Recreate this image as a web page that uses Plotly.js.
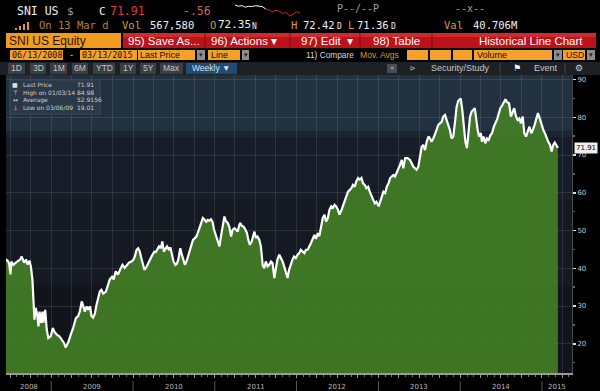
<!DOCTYPE html>
<html><head><meta charset="utf-8">
<script src="https://cdn.plot.ly/plotly-3.0.1.min.js"></script>
<style>html,body{margin:0;padding:0;background:#000;overflow:hidden}#chart{width:600px;height:391px}</style>
</head><body><div id="chart"></div>
<script>
// ---------- DATA ----------
const dates = [
'2008-06-13','2008-06-20','2008-06-27','2008-07-03','2008-07-07','2008-07-16','2008-07-31','2008-08-15','2008-08-22','2008-09-02',
'2008-09-11','2008-09-17','2008-09-26','2008-10-02','2008-10-09','2008-10-13','2008-10-18','2008-10-24','2008-10-31','2008-11-05',
'2008-11-10','2008-11-16','2008-11-23','2008-11-27','2008-12-05','2008-12-12','2008-12-19','2008-12-30',
'2009-01-08','2009-01-15','2009-01-26','2009-02-06','2009-02-17','2009-02-27','2009-03-06','2009-03-18','2009-03-29','2009-04-09',
'2009-04-21','2009-05-01','2009-05-09','2009-05-17','2009-05-24','2009-05-31','2009-06-08','2009-06-15','2009-06-23','2009-06-30',
'2009-07-07','2009-07-15','2009-07-22','2009-07-29','2009-08-06','2009-08-13','2009-08-21','2009-09-02','2009-09-07','2009-09-19',
'2009-10-01','2009-10-07','2009-10-16','2009-10-26','2009-11-06','2009-11-15','2009-11-25','2009-12-06','2009-12-14','2009-12-25',
'2010-01-03','2010-01-09','2010-01-17','2010-01-24','2010-01-31','2010-02-07','2010-02-14','2010-02-21','2010-03-01','2010-03-07',
'2010-03-15','2010-03-22','2010-03-29','2010-04-06','2010-04-13','2010-04-20','2010-04-27','2010-05-05','2010-05-12','2010-05-19',
'2010-05-26','2010-06-02','2010-06-10','2010-06-17','2010-06-24','2010-07-01','2010-07-09','2010-07-16','2010-07-23','2010-07-31',
'2010-08-07','2010-08-14','2010-08-21','2010-08-28','2010-09-05','2010-09-12','2010-09-19','2010-09-26','2010-10-04','2010-10-11',
'2010-10-18','2010-10-26','2010-11-02','2010-11-09','2010-11-16','2010-11-24','2010-12-01','2010-12-08','2010-12-15','2010-12-22',
'2010-12-29',
'2011-01-07','2011-01-14','2011-01-22','2011-01-29','2011-02-06','2011-02-13','2011-02-20','2011-02-28','2011-03-07','2011-03-15',
'2011-03-22','2011-03-30','2011-04-06','2011-04-13','2011-04-21','2011-04-25','2011-05-02','2011-05-10','2011-05-18','2011-05-25',
'2011-05-31','2011-06-07','2011-06-15','2011-06-20','2011-06-27','2011-07-04','2011-07-11','2011-07-19','2011-07-26','2011-08-03',
'2011-08-10','2011-08-17','2011-08-25','2011-09-01','2011-09-09','2011-09-16','2011-09-24','2011-10-01','2011-10-08','2011-10-16',
'2011-10-23','2011-10-31','2011-11-07','2011-11-14','2011-11-22','2011-11-29','2011-12-07','2011-12-14','2011-12-21','2011-12-29',
'2012-01-06','2012-01-13','2012-01-20','2012-01-28','2012-02-05','2012-02-12','2012-02-20','2012-03-04','2012-03-13','2012-03-21',
'2012-03-28','2012-04-05','2012-04-12','2012-04-19','2012-04-27','2012-05-05','2012-05-12','2012-05-20','2012-05-27','2012-06-04',
'2012-06-11','2012-06-19','2012-06-26','2012-07-04','2012-07-11','2012-07-19','2012-07-26','2012-08-03','2012-08-10','2012-08-18',
'2012-08-25','2012-09-02','2012-09-09','2012-09-17','2012-09-24','2012-10-02','2012-10-09','2012-10-17','2012-10-24','2012-11-01',
'2012-11-08','2012-11-16','2012-11-23','2012-12-01','2012-12-09','2012-12-16','2012-12-23',
'2013-01-02','2013-01-09','2013-01-16','2013-01-23','2013-01-31','2013-02-07','2013-02-15','2013-02-22','2013-03-01','2013-03-09',
'2013-03-16','2013-03-23','2013-03-31','2013-04-07','2013-04-15','2013-04-22','2013-04-30','2013-05-11','2013-05-22','2013-05-29',
'2013-06-06','2013-06-13','2013-06-20','2013-06-28','2013-07-06','2013-07-13','2013-07-20','2013-07-28','2013-08-04','2013-08-12',
'2013-08-19','2013-08-26','2013-09-03','2013-09-10','2013-09-17','2013-09-25','2013-10-03','2013-10-10','2013-10-17','2013-10-25',
'2013-11-01','2013-11-09','2013-11-16','2013-11-23','2013-12-01','2013-12-08','2013-12-16','2013-12-23',
'2014-01-03','2014-01-10','2014-01-17','2014-01-24','2014-01-31','2014-02-07','2014-02-14','2014-02-21','2014-02-28','2014-03-07',
'2014-03-20','2014-03-26','2014-04-03','2014-04-08','2014-04-15','2014-04-23','2014-04-30','2014-05-08','2014-05-16','2014-05-23',
'2014-05-31','2014-06-15','2014-06-22','2014-06-29','2014-07-06','2014-07-14','2014-07-22','2014-07-29','2014-08-07','2014-08-15',
'2014-08-22','2014-08-30','2014-09-07','2014-09-14','2014-09-22','2014-09-29','2014-10-07','2014-10-14','2014-10-22','2014-10-30',
'2014-11-06','2014-11-14','2014-11-21','2014-11-29','2014-12-06','2014-12-14','2014-12-22','2014-12-30',
'2015-01-07','2015-01-14','2015-01-22','2015-01-29','2015-02-06','2015-02-13','2015-02-20','2015-02-27','2015-03-06','2015-03-13'
];
const prices = [
42.4,42.0,41.3,38.4,41.8,40.9,41.7,42.3,43.1,41.5,
42.3,41.0,42.0,40.5,37.0,29.9,26.4,29.5,27.5,24.6,
28.5,25.5,28.5,25.6,29.0,23.7,21.5,22.0,
24.2,23.2,22.4,22.0,21.1,20.2,19.01,20.4,22.4,24.2,
26.8,27.3,28.6,31.2,30.0,28.5,29.9,29.0,29.9,27.3,
26.9,28.0,30.3,31.7,33.9,34.3,33.3,33.8,34.8,37.0,
37.9,37.0,39.2,38.3,39.8,40.9,40.1,40.9,41.5,41.8,
42.3,43.1,44.9,45.3,44.5,42.7,40.9,39.6,40.2,41.0,
42.3,42.8,43.6,44.4,44.3,45.3,45.8,45.3,47.1,44.4,
45.2,45.8,45.0,45.5,43.6,41.8,40.9,41.2,42.5,45.3,
43.6,42.3,40.9,41.8,43.6,45.3,46.2,47.5,47.9,48.4,
49.5,51.1,52.4,53.3,52.9,52.3,52.8,52.6,53.0,52.3,
50.2,
48.4,47.1,45.8,48.5,51.5,53.7,52.5,52.0,51.0,48.4,
50.2,50.6,50.2,49.7,51.5,52.0,51.2,51.0,50.2,49.3,
47.5,46.2,47.1,48.4,49.7,48.0,48.4,47.5,45.8,40.9,
40.0,41.8,40.5,40.9,41.8,41.4,37.4,40.0,42.3,43.6,
42.8,41.8,40.5,39.2,37.4,39.6,41.4,42.3,43.1,42.7,
43.6,44.0,44.9,44.5,44.0,44.9,44.9,46.5,48.0,48.8,
47.8,49.3,48.5,51.1,53.3,54.2,52.4,53.3,55.5,56.4,
56.0,56.8,56.4,55.5,54.2,55.3,56.6,57.7,59.4,60.3,
60.7,61.2,62.1,61.6,63.0,63.9,63.5,63.9,62.5,62.1,
61.2,61.6,60.3,59.4,58.1,57.2,57.6,
56.4,57.6,59.4,60.3,59.9,61.6,62.5,63.9,64.3,64.7,
64.3,65.2,66.1,67.4,68.7,66.5,69.2,69.2,68.7,67.8,
66.9,66.5,66.1,66.9,69.6,72.2,72.7,71.3,73.5,74.9,
74.4,73.5,74.4,75.8,76.6,78.0,78.4,78.8,80.2,80.6,
79.3,78.0,76.6,74.4,74.9,78.4,82.8,84.3,
84.98,82.0,77.0,73.5,71.8,76.0,80.2,81.5,81.9,82.4,
76.6,74.9,75.8,73.5,74.9,73.1,74.4,74.0,75.3,75.8,
77.5,79.5,81.0,82.4,83.0,84.1,84.8,84.0,83.7,80.2,
81.5,82.4,80.2,79.3,79.7,78.4,80.2,75.8,74.9,76.6,
77.5,75.8,76.6,78.0,79.3,81.1,79.7,78.0,
76.6,75.8,74.4,73.5,72.7,70.9,72.7,73.3,72.6,71.91
];
const yearLabels = ['2008','2009','2010','2011','2012','2013','2014','2015'];
const yearLabelDates = ['2008-09-22','2009-07-02','2010-07-02','2011-07-02','2012-07-02','2013-07-02','2014-07-02','2015-03-09'];
const yearBounds = ['2009-01-01','2010-01-01','2011-01-01','2012-01-01','2013-01-01','2014-01-01','2015-01-01'];
const yTicks = [20,30,40,50,60,70,80,90];
const lastPrice = 71.91;
const statNames = ['Last Price','High on 01/03/14','Average','Low on 03/06/09'];
const statValues = ['71.91','84.98','52.9156','19.01'];
const statIcons = ['\u25A0','\u22A4','\u2194','\u22A5'];
// intraday sparkline in header
const sparkTimesUp = ['09:30','09:50','10:10','10:30','10:50','11:10','11:30','11:50','12:10','12:30'];
const sparkUp = [72.42,72.30,72.36,72.22,72.30,72.28,72.35,72.33,72.27,72.05];
const sparkTimesDown = ['12:30','12:50','13:10','13:30','13:50','14:10','14:30','14:50','15:10','15:30','15:50'];
const sparkDown = [72.05,71.96,71.80,71.95,71.86,71.66,71.74,71.45,71.60,71.82,71.72];

// ---------- LAYOUT HELPERS ----------
const W=600, H=391;
const MONO='"DejaVu Sans Mono", monospace', SANS='"Liberation Sans", Arial, sans-serif', DV='"DejaVu Sans", sans-serif';
const AMB='#d99a3c', ORG='#f5a02a';
function txt(x,y,text,color,size,family,anchor){
  return {xref:'paper',yref:'paper',x:x/W,y:1-y/H,text:text,showarrow:false,xanchor:anchor||'left',yanchor:'middle',
    font:{color:color,size:size,family:family||MONO},borderpad:0};
}
function rect(x0,y0,x1,y1,fill,lineColor,layer){
  return {type:'rect',xref:'paper',yref:'paper',x0:x0/W,x1:x1/W,y0:1-y1/H,y1:1-y0/H,fillcolor:fill,
    line:{width:lineColor?1:0,color:lineColor||'rgba(0,0,0,0)'},layer:layer||'above'};
}
function vline(x,y0,y1,color){
  return {type:'line',xref:'paper',yref:'paper',x0:x/W,x1:x/W,y0:1-y1/H,y1:1-y0/H,line:{color:color,width:1},layer:'above'};
}

const shapes=[], ann=[];
// plot background bands
[[75,131,'#223140'],[131,137,'#1c2633'],[137,200,'#171d28'],[200,285,'#141922'],[285,373,'#11151b']].forEach(b=>{
  shapes.push(rect(6,b[0],572,b[1],b[2],null,'below'));
});
// header row 1
ann.push(txt(16,11,'SNI US','#f0f0f0',11.5,MONO));
ann.push(txt(66,11,'$','#9a9a9a',11,MONO));
ann.push(txt(98,11,'C','#f0f0f0',11,MONO));
ann.push(txt(109,11,'71.91','#e8383d',11.5,MONO));
ann.push(txt(182,11,'-.56','#c96464',11.5,MONO));
ann.push(txt(336,9,'P--/--P','#a0a0a0',10,MONO));
ann.push(txt(454,9,'--x--','#a0a0a0',10,MONO));
// header row 2
[[15,28],[19,26],[23,24],[27,22]].forEach(b=>shapes.push(rect(b[0],b[1],b[0]+2,30,AMB)));
ann.push(txt(38,25,'On 13 Mar d','#b8823e',10.5,MONO));
ann.push(txt(121,25,'Vol',AMB,10.5,MONO));
ann.push(txt(149,25,'567,580','#f0f0f0',10.5,MONO));
ann.push(txt(209,25,'O',AMB,10.5,MONO));
ann.push(txt(217,25,'72.35','#f0f0f0',11,MONO));
ann.push(txt(251,26,'N','#f0f0f0',8,MONO));
ann.push(txt(290,25,'H',AMB,10.5,MONO));
ann.push(txt(302,25,'72.42','#f0f0f0',10.5,MONO));
ann.push(txt(336,26,'D','#f0f0f0',8,MONO));
ann.push(txt(347,25,'L',AMB,10.5,MONO));
ann.push(txt(356,25,'71.36','#f0f0f0',10.5,MONO));
ann.push(txt(390,26,'D','#f0f0f0',8,MONO));
ann.push(txt(443,25,'Val',AMB,10.5,MONO));
ann.push(txt(472,25,'40.706M','#f0f0f0',10.5,MONO));
// header row 3
shapes.push(rect(6,33,121,48,'#f29b1e'));
ann.push(txt(8,41,'SNI US Equity','#2a1600',12,SANS));
shapes.push(rect(123,33,596,48,'#bd1219'));
shapes.push(rect(123,33,596,37,'#cf2a2e'));
[205,290,360,432].forEach(x=>shapes.push(vline(x,33,48,'#7a0a0e')));
ann.push(txt(127,41,'95) Save As...','#ffffff',11.5,SANS));
ann.push(txt(210,41,'96) Actions \u25BE','#ffffff',11.5,SANS));
ann.push(txt(300,41,'97) Edit  \u25BE','#ffffff',11.5,SANS));
ann.push(txt(372,41,'98) Table','#ffffff',11.5,SANS));
ann.push(txt(584,41,'Historical Line Chart','#ffffff',11.5,SANS,'right'));
// header row 4
[[10,63],[80,137],[138,195],[208,240],[407,428],[430,451],[453,472],[474,552],[563,585]].forEach(b=>shapes.push(rect(b[0],50,b[1],60,ORG)));
[[197,205],[242,249],[554,562],[587,595]].forEach(b=>{shapes.push(rect(b[0],50,b[1],60,'#8c8c8c'));ann.push(txt((b[0]+b[1])/2,55,'\u25BE','#222',7,DV,'center'));});
ann.push(txt(11,55,'06/13/2008','#1a1000',8.4,MONO));
ann.push(txt(68,55,'-','#dddddd',8.5,MONO));
ann.push(txt(81,55,'03/13/2015','#1a1000',8.4,MONO));
ann.push(txt(139,55,'Last Price','#1a1000',9,SANS));
ann.push(txt(210,55,'Line','#1a1000',9,SANS));
ann.push(txt(305,55,'11) Compare','#d8d8d8',8.3,SANS));
ann.push(txt(359,55,'Mov. Avgs',AMB,8.6,SANS));
ann.push(txt(476,55,'Volume','#1a1000',9,SANS));
ann.push(txt(565,55,'USD','#1a1000',8.6,SANS));
// header row 5
shapes.push(rect(0,62,600,75,'#1d2125'));
[[8,25,'1D'],[30,46,'3D'],[50,67,'1M'],[72,88,'6M'],[93,115,'YTD'],[120,136,'1Y'],[140,156,'5Y'],[160,183,'Max']].forEach(b=>{
  shapes.push(rect(b[0],63,b[1],74,'#393e44'));
  ann.push(txt((b[0]+b[1])/2,68.5,b[2],'#c4c4c4',8.5,SANS,'center'));
});
shapes.push(rect(186,63,237,74,'#1f4b74'));
ann.push(txt(211,68.5,'Weekly \u25BC','#d6e4f2',8.5,SANS,'center'));
shapes.push(rect(387,64,397,73,'#4a4e52'));
ann.push(txt(392,68.5,'\u00AB','#cccccc',7,DV,'center'));
ann.push(txt(409,68.5,'\u2AA7','#cccccc',9,DV));
ann.push(txt(430,68.5,'Security/Study','#c8c8c8',9,SANS));
shapes.push(vline(500,63,74,'#444'));
ann.push(txt(512,68.5,'\u2691','#ffffff',9,DV));
ann.push(txt(533,68.5,'Event','#c8c8c8',9,SANS));
shapes.push(vline(565,63,74,'#444'));
ann.push(txt(574,68.5,'\u2699','#cccccc',9,DV));
// stats box
shapes.push(rect(10,80,100,114,'rgba(44,58,72,0.9)','#3b4a58'));
statNames.forEach((n,i)=>{
  const y=85+i*7.5;
  ann.push(txt(15,y,statIcons[i],'#dddddd',6,DV,'center'));
  ann.push(txt(22,y,n,'#d0d0d0',6,DV));
  ann.push(txt(76,y,statValues[i],'#d0d0d0',6,DV));
});
// year labels and separators
yearLabels.forEach((l,i)=>ann.push({xref:'x',yref:'paper',x:yearLabelDates[i],y:1-387/H,text:l,showarrow:false,
  xanchor:'center',yanchor:'middle',font:{color:'#b8b8b8',size:7,family:DV}}));
yearBounds.forEach(d=>shapes.push({type:'line',xref:'x',yref:'paper',x0:d,x1:d,y0:1-391/H,y1:1-381/H,line:{color:'#555',width:1}}));
// last price box
ann.push({xref:'paper',yref:'y',x:574/W,y:lastPrice,text:'71.91',showarrow:false,xanchor:'left',yanchor:'middle',
  bgcolor:'#eeeeee',borderpad:1,font:{color:'#000',size:7,family:DV}});

const traces=[
 {x:dates,y:prices,type:'scatter',mode:'lines',line:{color:'#ffffff',width:2.2},fill:'tozeroy',fillcolor:'rgba(66,126,38,0.92)',hoverinfo:'skip'},
 {x:sparkTimesUp,y:sparkUp,xaxis:'x2',yaxis:'y2',type:'scatter',mode:'lines',line:{color:'#ffffff',width:1}},
 {x:sparkTimesDown,y:sparkDown,xaxis:'x2',yaxis:'y2',type:'scatter',mode:'lines',line:{color:'#d0202a',width:1}}
];
const layout={
  width:W,height:H,margin:{l:0,r:0,t:0,b:0},paper_bgcolor:'#000',plot_bgcolor:'rgba(0,0,0,0)',showlegend:false,
  xaxis:{type:'date',domain:[6/W,572/W],range:['2008-06-13','2015-05-15'],showgrid:true,gridcolor:'rgba(255,255,255,0.10)',
    dtick:'M3',tick0:'2008-01-01',ticks:'outside',ticklen:3,tickcolor:'#9a9a9a',showticklabels:false,showline:true,linecolor:'#9a9a9a',
    linewidth:2,zeroline:false,fixedrange:true,
    minor:{dtick:'M1',tick0:'2008-01-01',ticks:'outside',ticklen:2,tickcolor:'#777',showgrid:false}},
  yaxis:{domain:[18/H,316/H],range:[12.25,91.2],side:'right',tickvals:yTicks,ticktext:yTicks.map(String),
    tickfont:{size:7,color:'#c8c8c8',family:DV},ticks:'outside',ticklen:3,tickwidth:1.5,tickcolor:'#dddddd',
    showgrid:true,gridcolor:'rgba(255,255,255,0.10)',showline:true,linecolor:'#4a4a4a',zeroline:false,fixedrange:true,
    minor:{dtick:5,tick0:0,ticks:'outside',ticklen:2,tickcolor:'#666',showgrid:false}},
  xaxis2:{domain:[235/W,300/W],type:'category',visible:false,anchor:'y2'},
  yaxis2:{domain:[1-17/H,1-4/H],range:[71.35,72.5],visible:false,anchor:'x2'},
  shapes:shapes,annotations:ann
};
Plotly.newPlot('chart',traces,layout,{displayModeBar:false,staticPlot:true});
</script></body></html>
